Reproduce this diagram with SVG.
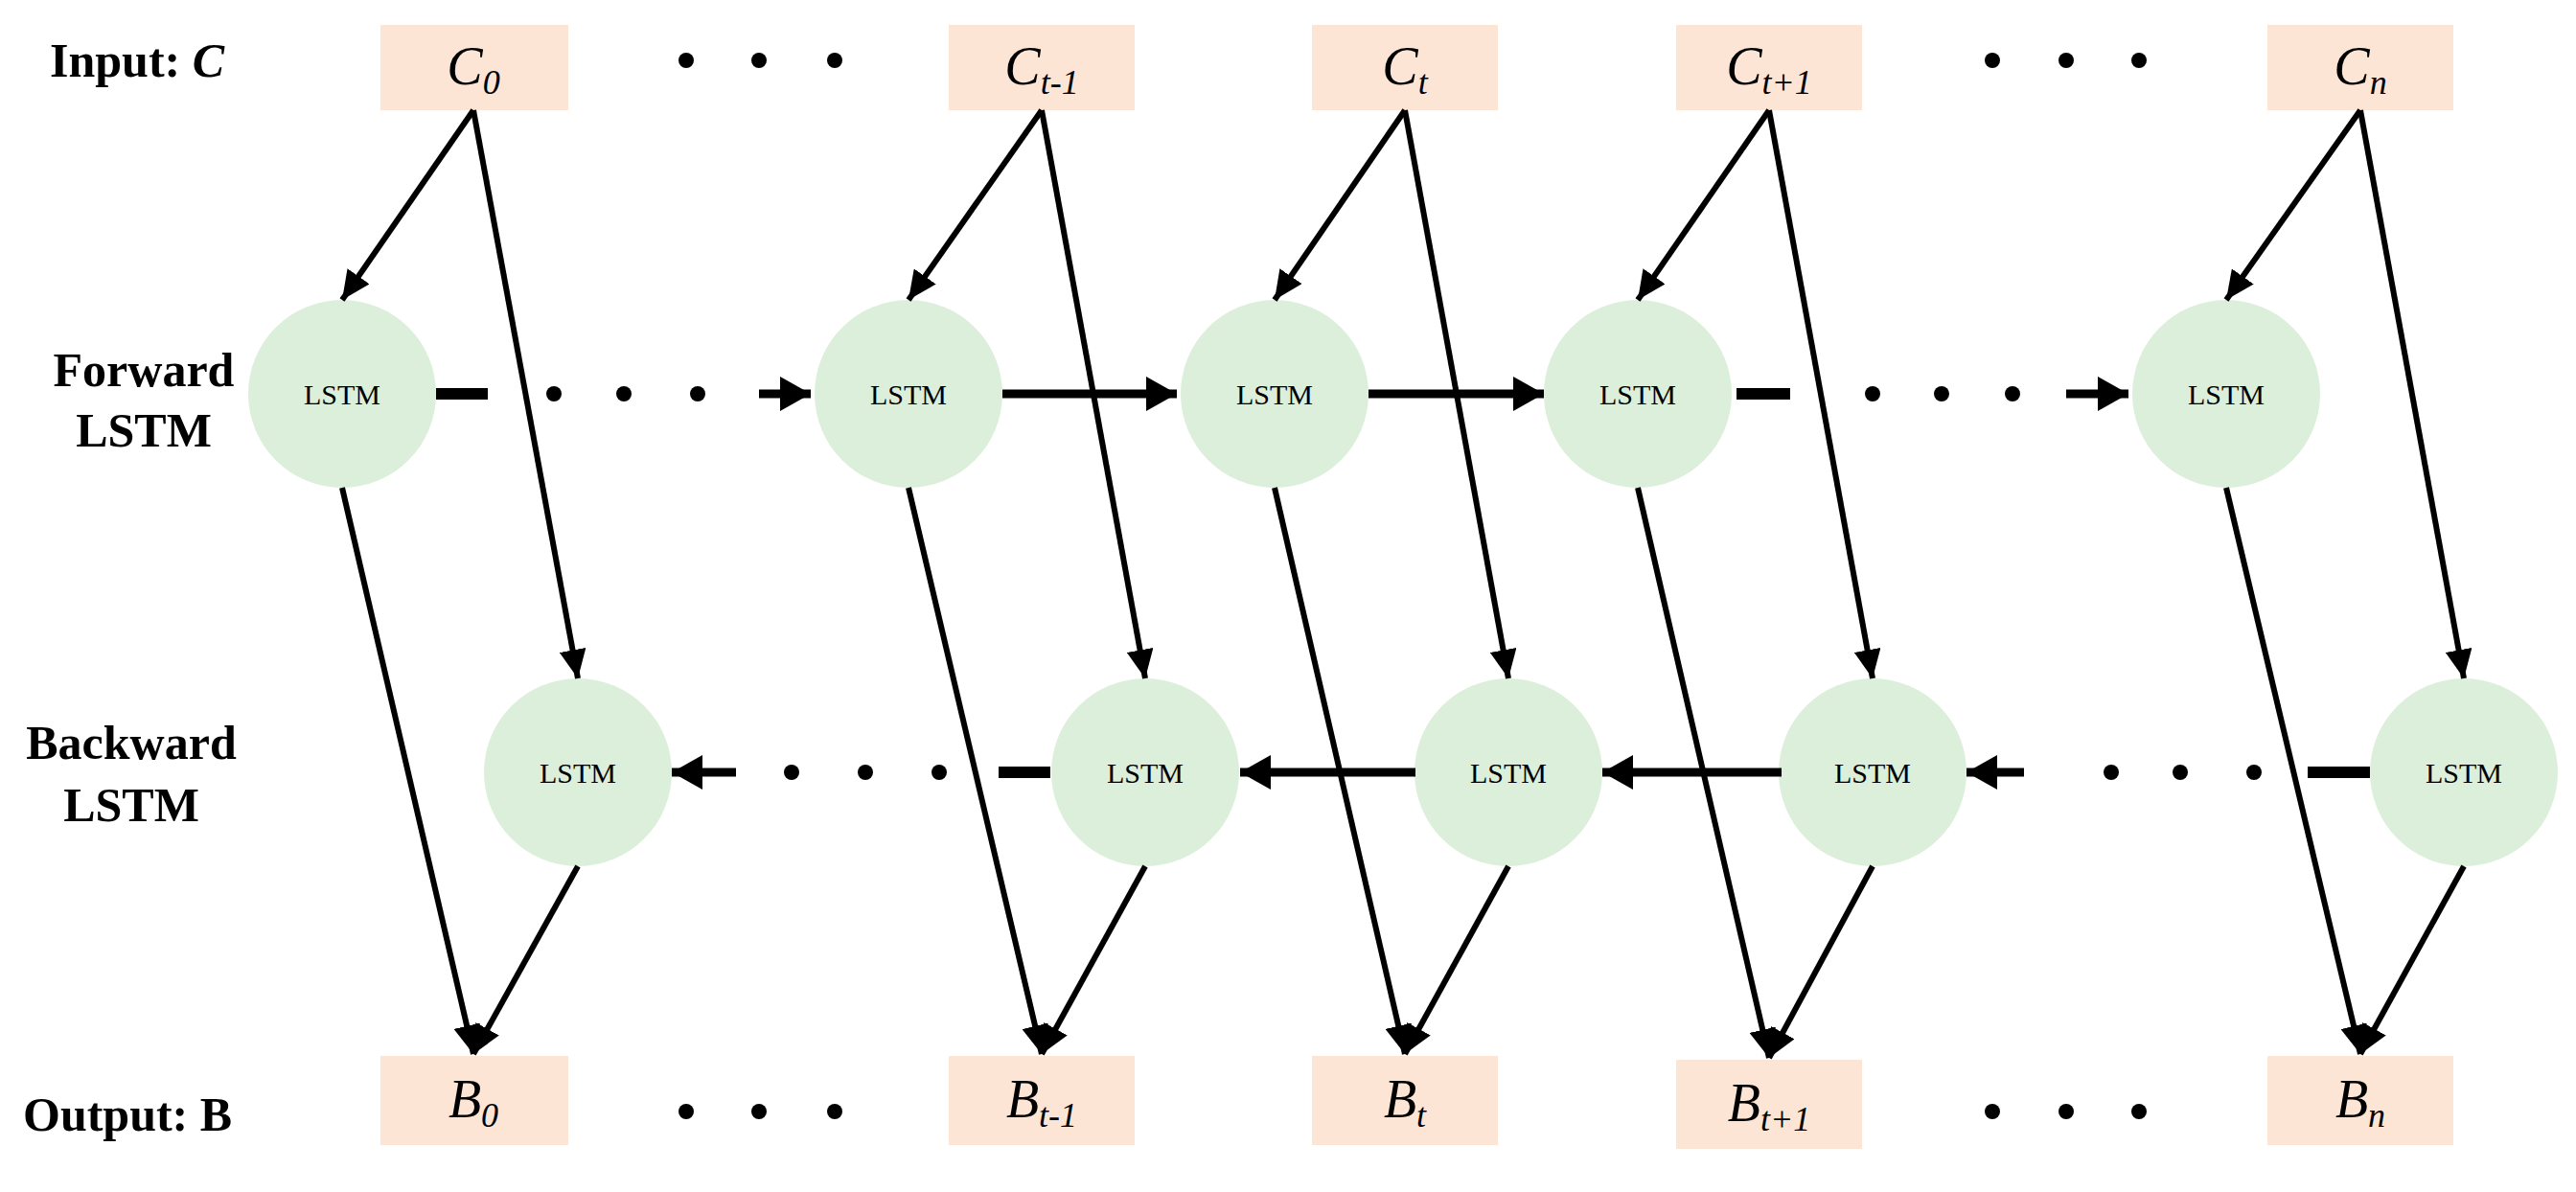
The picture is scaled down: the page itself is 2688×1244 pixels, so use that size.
<svg xmlns="http://www.w3.org/2000/svg" width="2688" height="1244" viewBox="0 0 2688 1244">
<style>
.box{fill:#fde5d6}
.cir{fill:#dcefda}
.lab{font-family:"Liberation Serif",serif;font-weight:bold;font-size:50px;fill:#000}
.bt{font-family:"Liberation Serif",serif;font-style:italic;font-size:56px;fill:#000}
.sub{font-size:36px}
.lt{font-family:"Liberation Serif",serif;font-size:30px;fill:#000}
.c{stroke:#000;stroke-width:6;fill:none}
.h{stroke:#000;stroke-width:9;fill:none}
.d{stroke:#000;stroke-width:12;fill:none}
.dot{fill:#000}
</style>
<defs>
<marker id="a" markerUnits="userSpaceOnUse" markerWidth="32" markerHeight="28" refX="30" refY="14" orient="auto"><path d="M0,0L30,14L0,28Z" fill="#000"/></marker>
<marker id="b" markerUnits="userSpaceOnUse" markerWidth="34" markerHeight="36" refX="32" refY="18" orient="auto"><path d="M0,0L32,18L0,36Z" fill="#000"/></marker>
</defs>
<g id="labels">
<text class="lab" x="52" y="80">Input: <tspan font-style="italic">C</tspan></text>
<text class="lab" x="150" y="403" text-anchor="middle">Forward</text>
<text class="lab" x="150" y="466" text-anchor="middle">LSTM</text>
<text class="lab" x="137" y="792" text-anchor="middle">Backward</text>
<text class="lab" x="137" y="857" text-anchor="middle">LSTM</text>
<text class="lab" x="24" y="1180">Output: B</text>
</g>
<g id="inputs">
<g id="C0"><rect class="box" x="397" y="26" width="196" height="89"/><text class="bt" x="494" y="88" text-anchor="middle">C<tspan class="sub" dy="10">0</tspan></text></g>
<g id="Ct-1"><rect class="box" x="990" y="26" width="194" height="89"/><text class="bt" x="1087" y="88" text-anchor="middle">C<tspan class="sub" dy="10">t-1</tspan></text></g>
<g id="Ct"><rect class="box" x="1369" y="26" width="194" height="89"/><text class="bt" x="1466" y="88" text-anchor="middle">C<tspan class="sub" dy="10">t</tspan></text></g>
<g id="Ct+1"><rect class="box" x="1749" y="26" width="194" height="89"/><text class="bt" x="1846" y="88" text-anchor="middle">C<tspan class="sub" dy="10">t+1</tspan></text></g>
<g id="Cn"><rect class="box" x="2366" y="26" width="194" height="89"/><text class="bt" x="2463" y="88" text-anchor="middle">C<tspan class="sub" dy="10">n</tspan></text></g>
</g>
<g id="outputs">
<g id="B0"><rect class="box" x="397" y="1102" width="196" height="93"/><text class="bt" x="494" y="1166" text-anchor="middle">B<tspan class="sub" dy="10">0</tspan></text></g>
<g id="Bt-1"><rect class="box" x="990" y="1102" width="194" height="93"/><text class="bt" x="1087" y="1166" text-anchor="middle">B<tspan class="sub" dy="10">t-1</tspan></text></g>
<g id="Bt"><rect class="box" x="1369" y="1102" width="194" height="93"/><text class="bt" x="1466" y="1166" text-anchor="middle">B<tspan class="sub" dy="10">t</tspan></text></g>
<g id="Bt+1"><rect class="box" x="1749" y="1106" width="194" height="93"/><text class="bt" x="1846" y="1170" text-anchor="middle">B<tspan class="sub" dy="10">t+1</tspan></text></g>
<g id="Bn"><rect class="box" x="2366" y="1102" width="194" height="93"/><text class="bt" x="2463" y="1166" text-anchor="middle">B<tspan class="sub" dy="10">n</tspan></text></g>
</g>
<g id="forward">
<g id="F0"><circle class="cir" cx="357" cy="411" r="98"/><text class="lt" x="357" y="422" text-anchor="middle">LSTM</text></g>
<g id="F1"><circle class="cir" cx="948" cy="411" r="98"/><text class="lt" x="948" y="422" text-anchor="middle">LSTM</text></g>
<g id="F2"><circle class="cir" cx="1330" cy="411" r="98"/><text class="lt" x="1330" y="422" text-anchor="middle">LSTM</text></g>
<g id="F3"><circle class="cir" cx="1709" cy="411" r="98"/><text class="lt" x="1709" y="422" text-anchor="middle">LSTM</text></g>
<g id="F4"><circle class="cir" cx="2323" cy="411" r="98"/><text class="lt" x="2323" y="422" text-anchor="middle">LSTM</text></g>
</g>
<g id="backward">
<g id="K0"><circle class="cir" cx="603" cy="806" r="98"/><text class="lt" x="603" y="817" text-anchor="middle">LSTM</text></g>
<g id="K1"><circle class="cir" cx="1195" cy="806" r="98"/><text class="lt" x="1195" y="817" text-anchor="middle">LSTM</text></g>
<g id="K2"><circle class="cir" cx="1574" cy="806" r="98"/><text class="lt" x="1574" y="817" text-anchor="middle">LSTM</text></g>
<g id="K3"><circle class="cir" cx="1954" cy="806" r="98"/><text class="lt" x="1954" y="817" text-anchor="middle">LSTM</text></g>
<g id="K4"><circle class="cir" cx="2571" cy="806" r="98"/><text class="lt" x="2571" y="817" text-anchor="middle">LSTM</text></g>
</g>
<g id="connectors">
<path class="c" marker-end="url(#a)" d="M494,115L357,313"/><path class="c" marker-end="url(#a)" d="M494,115L603,708"/><path class="c" marker-end="url(#a)" d="M357,509L494,1100"/><path class="c" marker-end="url(#a)" d="M603,904L494,1100"/>
<path class="c" marker-end="url(#a)" d="M1087,115L948,313"/><path class="c" marker-end="url(#a)" d="M1087,115L1195,708"/><path class="c" marker-end="url(#a)" d="M948,509L1087,1100"/><path class="c" marker-end="url(#a)" d="M1195,904L1087,1100"/>
<path class="c" marker-end="url(#a)" d="M1466,115L1330,313"/><path class="c" marker-end="url(#a)" d="M1466,115L1574,708"/><path class="c" marker-end="url(#a)" d="M1330,509L1466,1100"/><path class="c" marker-end="url(#a)" d="M1574,904L1466,1100"/>
<path class="c" marker-end="url(#a)" d="M1846,115L1709,313"/><path class="c" marker-end="url(#a)" d="M1846,115L1954,708"/><path class="c" marker-end="url(#a)" d="M1709,509L1846,1104"/><path class="c" marker-end="url(#a)" d="M1954,904L1846,1104"/>
<path class="c" marker-end="url(#a)" d="M2463,115L2323,313"/><path class="c" marker-end="url(#a)" d="M2463,115L2571,708"/><path class="c" marker-end="url(#a)" d="M2323,509L2463,1100"/><path class="c" marker-end="url(#a)" d="M2571,904L2463,1100"/>
<path class="d" d="M455,411H509M1812,411H1868M1096,806H1042M2473,806H2408"/>
<path class="h" marker-end="url(#b)" d="M792,411H846"/><path class="h" marker-end="url(#b)" d="M1046,411H1228"/><path class="h" marker-end="url(#b)" d="M1428,411H1611"/><path class="h" marker-end="url(#b)" d="M2156,411H2221"/>
<path class="h" marker-end="url(#b)" d="M768,806H701"/><path class="h" marker-end="url(#b)" d="M1477,806H1294"/><path class="h" marker-end="url(#b)" d="M1859,806H1672"/><path class="h" marker-end="url(#b)" d="M2112,806H2052"/>
</g>
<g id="dots" class="dot">
<circle cx="716" cy="63" r="8"/><circle cx="792" cy="63" r="8"/><circle cx="871" cy="63" r="8"/>
<circle cx="2079" cy="63" r="8"/><circle cx="2156" cy="63" r="8"/><circle cx="2232" cy="63" r="8"/>
<circle cx="716" cy="1160" r="8"/><circle cx="792" cy="1160" r="8"/><circle cx="871" cy="1160" r="8"/>
<circle cx="2079" cy="1160" r="8"/><circle cx="2156" cy="1160" r="8"/><circle cx="2232" cy="1160" r="8"/>
<circle cx="578" cy="411" r="8"/><circle cx="651" cy="411" r="8"/><circle cx="728" cy="411" r="8"/>
<circle cx="1954" cy="411" r="8"/><circle cx="2026" cy="411" r="8"/><circle cx="2100" cy="411" r="8"/>
<circle cx="980" cy="806" r="8"/><circle cx="903" cy="806" r="8"/><circle cx="826" cy="806" r="8"/>
<circle cx="2352" cy="806" r="8"/><circle cx="2275" cy="806" r="8"/><circle cx="2203" cy="806" r="8"/>
</g>
</svg>
